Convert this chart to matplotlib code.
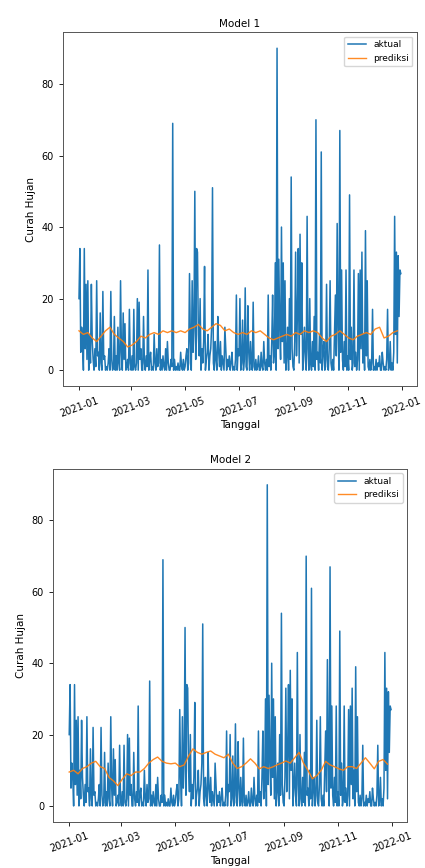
"""Curah hujan aktual vs prediksi, Model 1 and Model 2 (2021, daily)."""

import matplotlib
matplotlib.use("Agg")
import matplotlib.dates as mdates
import matplotlib.pyplot as plt
import numpy as np
import pandas as pd

# daily actual rainfall, one list per month (2021)
jan = [20, 34, 5, 12, 8, 0, 34, 6, 24, 3, 25, 0, 10, 2, 24, 8, 3, 0, 6, 1,
       25, 4, 5, 0, 16, 2, 0, 22, 3, 4, 0]
feb = [1, 0, 2, 6, 0, 22, 3, 0, 1, 15, 0, 4, 0, 12, 2, 0, 25, 5, 0, 16,
       3, 13, 0, 1, 3, 0, 17, 2]
mar = [0, 4, 0, 17, 1, 0, 2, 20, 0, 19, 3, 6, 0, 0, 15, 2, 0, 4, 1, 28,
       0, 3, 5, 0, 1, 0, 10, 2, 0, 6, 1]
apr = [2, 35, 0, 3, 0, 4, 1, 0, 6, 0, 8, 2, 0, 0, 3, 1, 69, 0, 3, 0,
       1, 0, 2, 0, 0, 5, 1, 0, 3, 0]
may = [1, 4, 6, 0, 2, 27, 8, 0, 25, 5, 12, 50, 3, 34, 33, 10, 4, 20, 0, 6,
       2, 8, 29, 0, 3, 5, 10, 0, 4, 6, 12]
jun = [51, 2, 0, 8, 3, 0, 15, 5, 1, 8, 0, 4, 2, 0, 12, 6, 0, 3, 1, 4,
       0, 2, 5, 0, 1, 0, 3, 21, 0, 6]
jul = [4, 20, 0, 2, 14, 0, 3, 23, 1, 0, 18, 5, 0, 8, 2, 0, 19, 1, 0, 3,
       0, 1, 4, 0, 0, 5, 1, 0, 8, 2, 0]
aug = [3, 0, 21, 1, 4, 0, 8, 21, 2, 5, 30, 0, 90, 6, 31, 12, 3, 40, 8, 30,
       2, 25, 0, 4, 12, 0, 20, 3, 54, 6, 1]
sep = [0, 8, 33, 4, 15, 34, 2, 38, 10, 30, 0, 5, 12, 3, 0, 43, 6, 0, 20, 2,
       0, 8, 1, 15, 0, 70, 3, 5, 0, 10]
okt = [2, 61, 0, 5, 8, 0, 3, 24, 1, 0, 6, 25, 2, 0, 3, 0, 10, 21, 4, 41,
       12, 0, 67, 5, 28, 3, 0, 8, 1, 28, 0]
nov = [4, 0, 49, 3, 12, 0, 2, 28, 1, 5, 0, 3, 27, 0, 28, 6, 33, 2, 10, 0,
       39, 4, 25, 1, 0, 3, 0, 2, 17, 0]
des = [1, 0, 3, 0, 2, 1, 4, 0, 0, 5, 2, 0, 1, 0, 3, 17, 0, 1, 8, 0,
       2, 0, 5, 43, 10, 33, 2, 32, 15, 28, 27]
aktual = jan + feb + mar + apr + may + jun + jul + aug + sep + okt + nov + des

# predictions, read every 5 days
pred_model1 = [11, 10, 10.5, 9, 8, 9.5, 11, 12, 10, 9,
               8, 6.5, 7, 8, 9.5, 9, 10, 10.5, 10, 11,
               10.5, 11, 10.5, 11, 10.5, 11.5, 12, 12.8, 11.5, 11,
               12, 13, 12.5, 11, 11.5, 10.5, 10, 10.5, 10, 11,
               10.5, 11, 10, 9, 8.5, 9, 9.5, 10, 9.5, 10.5,
               10, 11, 10.5, 11, 10.5, 9, 8, 9.5, 10, 11,
               10, 9, 8.5, 9.5, 10, 10.5, 10, 11.5, 12, 9,
               9.5, 10.5, 11]
pred_model2 = [9.5, 10, 9, 10.5, 11, 12, 12.5, 11, 10.5, 8,
               7, 5.7, 7.5, 9, 8.5, 9.5, 9.5, 10.5, 12, 13,
               13.7, 12.5, 12, 11.8, 12, 11, 11.5, 14, 16, 15,
               14.5, 15, 15.4, 14.5, 14, 13.5, 14.5, 12, 10.5, 11,
               12, 13.2, 12, 10.4, 11, 10.5, 10.9, 11.5, 12, 12.6,
               12, 13.5, 15, 12, 10, 7.6, 8.5, 10, 12.5, 11.5,
               11, 10.4, 10, 11, 11, 10.5, 12, 13.5, 12, 10.4,
               12.5, 13, 11.7]

tanggal = pd.date_range("2021-01-01", periods=len(aktual), freq="D")
tanggal_pred = pd.date_range("2021-01-01", periods=len(pred_model1), freq="5D")


def draw(ax, pred, title):
    ax.plot(tanggal, aktual, color="#1f77b4", lw=1.1, label="aktual")
    ax.plot(tanggal_pred, pred, color="#ff7f0e", lw=1.0, alpha=0.9, label="prediksi")
    ax.set_title(title, fontsize=7.5, pad=4)
    ax.set_xlabel("Tanggal", fontsize=7.5, labelpad=1)
    ax.set_ylabel("Curah Hujan", fontsize=7.5)
    ax.set_yticks([0, 20, 40, 60, 80])
    ax.xaxis.set_major_locator(mdates.MonthLocator(bymonth=[1, 3, 5, 7, 9, 11]))
    ax.xaxis.set_major_formatter(mdates.DateFormatter("%Y-%m"))
    ax.tick_params(labelsize=7, length=3, width=0.6)
    plt.setp(ax.get_xticklabels(), rotation=20)
    for s in ax.spines.values():
        s.set_linewidth(0.7)
        s.set_color("#555555")
    ax.legend(loc="upper right", fontsize=6.5, handlelength=2, framealpha=0.8)


fig = plt.figure(figsize=(4.25, 8.68), dpi=100)
ax1 = fig.add_axes([0.148, 0.555, 0.833, 0.408])
ax2 = fig.add_axes([0.125, 0.053, 0.833, 0.407])
draw(ax1, pred_model1, "Model 1")
draw(ax2, pred_model2, "Model 2")

fig.savefig("out.png", dpi=100)
